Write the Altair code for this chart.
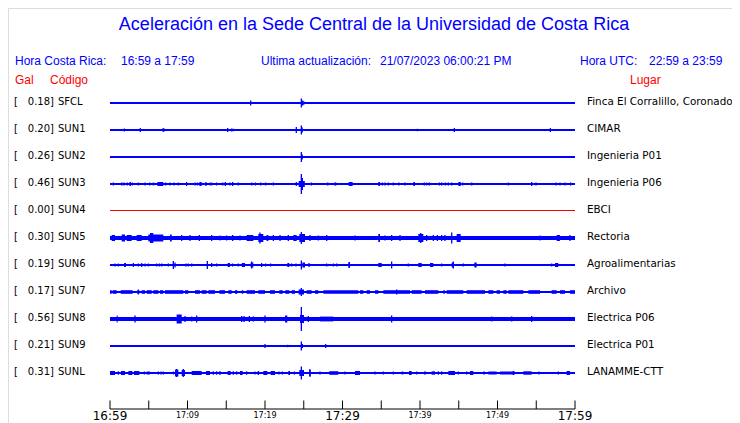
import altair as alt
import pandas as pd

# ---------------- data ----------------
CODES = ["SFCL", "SUN1", "SUN2", "SUN3", "SUN4", "SUN5", "SUN6", "SUN7", "SUN8", "SUN9", "SUNL"]
GAL = ["0.18", "0.20", "0.26", "0.46", "0.00", "0.30", "0.19", "0.17", "0.56", "0.21", "0.31"]
PLACES = ["Finca El Corralillo, Coronado", "CIMAR", "Ingenieria P01", "Ingenieria P06", "EBCI",
          "Rectoria", "Agroalimentarias", "Archivo", "Electrica P06", "Electrica P01", "LANAMME-CTT"]
STATUS = ["on", "on", "on", "on", "off", "on", "on", "on", "on", "on", "on"]
# background noise half-amplitude per trace
NOISE = [1, 1, 1, 1, 0.5, 2, 1, 1, 2, 1, 1]

# spikes: (minute after 16:59, half amplitude)
SPIKES = {
    "SFCL": [(18.15, 2.5), (24.69, 4.5), (24.85, 2.5), (25.0, 1.8)],
    "SUN1": [(1.85, 1.5), (3.91, 2), (6.85, 1.8), (6.95, 1.8), (15.18, 2), (15.7, 1.5), (15.9, 1.2),
             (24.04, 3), (24.69, 4.5), (24.8, 2.5), (39.66, 1.2), (44.43, 2), (56.82, 2)],
    "SUN2": [(24.69, 5), (24.8, 2.5)],
    "SUN3": [(0.43, 1.5), (1.5, 1.5), (1.81, 1.5), (2.24, 1.5), (2.88, 1.5), (3.66, 1.5), (4.52, 1.5),
             (5.12, 1.5), (5.59, 1.5), (7.18, 1.5), (7.74, 1.5), (8.26, 1.5), (8.82, 1.5), (9.89, 2),
             (10.97, 1.5), (11.27, 1.5), (12.39, 2), (12.9, 1.5), (13.12, 1.5), (13.76, 1.5), (14.54, 1.5),
             (14.88, 2), (15.48, 1.5), (15.83, 2), (16.56, 1.5), (18.28, 1.5), (18.75, 1.5), (19.44, 1.5),
             (20.09, 1.5), (21.08, 1.5), (24.04, 2), (24.43, 3), (24.69, 10), (24.82, 6), (25.03, 3),
             (25.98, 1.5), (28.09, 1.5), (29.03, 1.5), (29.12, 1.5), (30.88, 2), (35.14, 1.5), (35.48, 1.5),
             (35.91, 1.5), (36.56, 1.5), (37.29, 1.5), (38.06, 1.5), (40.56, 1.5), (40.86, 1.5), (41.2, 1.5),
             (42.49, 1.5), (42.79, 1.5), (43.27, 1.5), (43.66, 1.5), (44.09, 1.5), (45.51, 1.5), (46.67, 1.5),
             (51.4, 1.5), (54.41, 2), (54.97, 1.5), (57.55, 1.5), (58.06, 1.5), (58.71, 1.5), (59.44, 1.5)],
    "SUN4": [],
    "SUN5": [(9.25, 3), (10.32, 3), (11.53, 3), (13.12, 3), (14.19, 2.5), (15.05, 2.5), (15.83, 3),
             (16.77, 2.5), (19.35, 5.5), (21.08, 3), (21.94, 3), (23.01, 3), (24.69, 6), (25.81, 3),
             (26.88, 2.5), (27.96, 3), (31.61, 2.5), (35.48, 2.5), (36.34, 3), (37.42, 3), (40.09, 5),
             (40.86, 3), (41.72, 3), (42.24, 3), (42.79, 3), (43.22, 3), (44.09, 5.5), (55.48, 2.5), (59.35, 3)],
    "SUN6": [(0.65, 1.5), (1.08, 1.5), (3.01, 2), (3.66, 1.5), (4.09, 2), (4.52, 1.5), (4.95, 1.5),
             (6.02, 1.5), (6.37, 1.5), (6.67, 1.5), (7.53, 1.5), (8.17, 4), (8.39, 2.5), (9.81, 1.5),
             (10.11, 1.5), (10.54, 1.5), (12.56, 4), (13.12, 2), (13.76, 1.5), (15.83, 1.5), (16.56, 1.5),
             (18.28, 3.5), (19.57, 2), (20.09, 1.5), (20.73, 1.5), (23.44, 1.5), (24.0, 1.5), (24.69, 4.5),
             (25.68, 2), (27.96, 1.5), (28.82, 1.5), (29.25, 1.5), (30.88, 3), (36.34, 3.5), (38.49, 1.5),
             (42.79, 1.5), (44.3, 3.5), (45.59, 1.5), (50.97, 1.5), (56.99, 1.5)],
    "SUN7": [(3.66, 2.5), (24.69, 4), (37.0, 2.5)],
    "SUN8": [(3.23, 3.5), (9.68, 3), (10.54, 2.5), (11.18, 3.5), (16.99, 3), (17.29, 3), (17.98, 3),
             (18.49, 2.5), (20.0, 3.5), (24.69, 12), (25.59, 3), (36.34, 3.5), (49.25, 2.5), (51.83, 2.5),
             (54.41, 3)],
    "SUN9": [(20.0, 2), (22.92, 1.2), (24.69, 4.5), (24.82, 2), (27.83, 2)],
    "SUNL": [(1.08, 1.7), (4.43, 1.5), (6.24, 1.5), (6.58, 1.5), (6.88, 1.5), (8.17, 1.5), (8.6, 4),
             (9.46, 4), (13.33, 1.7), (13.76, 1.7), (15.91, 1.7), (16.34, 1.7), (17.63, 1.7), (18.71, 1.5),
             (19.14, 2), (21.81, 1.5), (22.24, 1.5), (23.79, 1.5), (24.69, 6.5), (25.8, 3.5), (27.1, 1.5),
             (30.32, 1.5), (34.19, 1.5), (35.27, 1.5), (36.56, 1.5), (39.57, 1.5), (40.64, 1.7), (42.37, 1.7),
             (42.79, 1.7), (44.95, 1.5), (46.02, 1.5), (52.04, 2), (55.35, 1.5), (57.85, 1.5)],
}

# bursts: (start minute, end minute, half amplitude)
BURSTS = {
    "SFCL": [],
    "SUN1": [],
    "SUN2": [],
    "SUN3": [(2.5, 2.7, 2), (6.11, 6.88, 2), (11.53, 11.83, 2), (24.4, 25.1, 3), (30.88, 31.31, 2),
             (34.62, 34.84, 2), (39.14, 39.35, 2), (44.95, 45.25, 2)],
    "SUN4": [],
    "SUN5": [(0.22, 0.65, 3), (1.51, 1.94, 3.5), (2.15, 2.8, 3), (3.44, 4.09, 3), (4.95, 6.88, 3.5),
             (5.16, 5.59, 5), (7.74, 7.96, 3.5), (17.63, 18.49, 3), (19.14, 19.78, 4), (20.2, 20.43, 3),
             (23.66, 24.09, 3), (24.43, 25.16, 4), (34.62, 34.84, 4), (39.78, 40.43, 4), (44.73, 45.25, 4),
             (57.63, 58.06, 3)],
    "SUN6": [(1.81, 2.06, 2), (15.18, 15.48, 2), (17.0, 17.42, 2), (18.15, 18.49, 2.5), (22.88, 23.14, 2),
             (24.82, 25.16, 2.5), (30.75, 30.97, 2.5), (34.62, 35.05, 2), (39.78, 40.21, 2), (41.29, 41.72, 2),
             (44.09, 44.39, 2.5), (47.01, 47.31, 2.5), (57.42, 57.85, 2)],
    "SUN7": [(0.0, 0.22, 1.8), (0.34, 0.86, 1.8), (1.38, 2.92, 1.8), (3.53, 3.79, 1.8), (4.09, 4.52, 1.8),
             (4.73, 5.38, 1.8), (5.59, 6.24, 1.8), (6.45, 6.88, 1.8), (7.1, 9.46, 1.8), (9.68, 10.11, 1.8),
             (10.97, 11.61, 1.8), (11.83, 12.47, 1.8), (12.69, 13.55, 1.8), (14.11, 14.84, 1.8),
             (15.27, 15.7, 1.8), (16.13, 16.43, 1.8), (16.99, 17.2, 1.8), (17.63, 18.71, 1.8),
             (19.14, 20.0, 1.8), (20.64, 21.29, 1.8), (21.85, 22.28, 1.8), (22.62, 23.14, 1.8),
             (23.44, 23.87, 1.8), (24.34, 25.03, 2.5), (25.38, 26.02, 1.8), (26.45, 26.88, 1.8),
             (27.53, 32.04, 1.8), (32.26, 32.69, 1.8), (33.12, 33.55, 1.8), (34.19, 34.62, 1.8),
             (35.27, 38.71, 1.8), (38.92, 40.21, 1.8), (40.64, 42.37, 1.8), (43.01, 43.22, 1.8),
             (43.44, 45.59, 1.8), (46.02, 48.39, 1.8), (48.82, 49.46, 1.8), (49.89, 50.32, 1.8),
             (50.75, 51.18, 1.8), (51.4, 53.33, 1.8), (53.98, 55.48, 1.8), (56.99, 57.63, 1.8),
             (58.06, 58.71, 1.8), (59.35, 60.0, 1.8)],
    "SUN8": [(0.86, 0.99, 3.5), (8.6, 9.25, 4.5), (22.58, 22.88, 3.5), (24.52, 25.03, 4), (27.1, 28.82, 2.4)],
    "SUN9": [],
    "SUNL": [(0.0, 0.65, 2), (1.42, 1.94, 2), (2.37, 2.88, 2), (3.1, 3.79, 2), (4.73, 5.16, 1.5),
             (8.39, 8.82, 3.5), (9.25, 9.68, 3), (10.54, 11.83, 2), (12.39, 12.9, 2), (14.06, 14.28, 1.7),
             (15.18, 15.57, 2), (16.77, 17.12, 2), (19.78, 20.3, 2), (20.73, 21.29, 2), (23.01, 23.23, 2),
             (24.43, 25.03, 3), (25.68, 25.89, 3.5), (28.3, 29.46, 1.8), (31.61, 32.26, 2), (37.63, 37.85, 1.5),
             (38.58, 38.92, 2), (41.5, 41.94, 1.7), (43.66, 44.52, 2), (46.45, 46.88, 2), (48.17, 48.39, 1.5),
             (48.82, 49.89, 1.5), (50.32, 52.26, 1.5), (53.33, 54.41, 1.7), (58.92, 59.35, 2)],
}

TICK_MIN = [0, 5, 10, 15, 20, 25, 30, 35, 40, 45, 50, 55, 60]
LABEL_MIN = [0, 10, 20, 30, 40, 50, 60]
LABEL_TXT = ["16:59", "17:09", "17:19", "17:29", "17:39", "17:49", "17:59"]

TITLE = "Aceleración en la Sede Central de la Universidad de Costa Rica"

# ---------------- tables ----------------
ROW = 27
stations = pd.DataFrame({"code": CODES, "gal": [g + "]" for g in GAL], "place": PLACES,
                         "status": STATUS, "noise": NOISE, "idx": list(range(len(CODES)))})
stations["yc"] = stations["idx"] * ROW
is_off = stations["status"] == "off"
stations["lo"] = stations["yc"] - stations["noise"].where(~is_off, 1.0)
stations["hi"] = stations["yc"] + stations["noise"].where(~is_off, 0.0)
stations["t0"] = 0
stations["t1"] = 60

sp_rows, bu_rows = [], []
for i, c in enumerate(CODES):
    for t, a in SPIKES[c]:
        sp_rows.append({"t": t, "lo": i * ROW - a, "hi": i * ROW + a})
    for t0, t1, a in BURSTS[c]:
        bu_rows.append({"t0": t0, "t1": t1, "lo": i * ROW - a, "hi": i * ROW + a})
spikes = pd.DataFrame(sp_rows)
bursts = pd.DataFrame(bu_rows)
ticks = pd.DataFrame({"t": TICK_MIN})
labels = pd.DataFrame({"t": LABEL_MIN, "txt": LABEL_TXT})
labels["major"] = labels["t"] % 30 == 0

BLUE = "#0000ff"
RED = "#ff0000"
xs = alt.Scale(domain=[0, 60], range=[102, 567], nice=False, zero=False)
ys = alt.Scale(domain=[0, 270], range=[95, 365], nice=False, zero=False)
color = alt.Color("status:N", scale=alt.Scale(domain=["on", "off"], range=[BLUE, RED]), legend=None)

base_tr = alt.Chart(stations).mark_rect().encode(
    x=alt.X("t0:Q", scale=xs, axis=None), x2="t1:Q",
    y=alt.Y("lo:Q", scale=ys, axis=None), y2="hi:Q", color=color)

burst_l = alt.Chart(bursts).mark_rect(color=BLUE).encode(
    x=alt.X("t0:Q", scale=xs, axis=None), x2="t1:Q",
    y=alt.Y("lo:Q", scale=ys, axis=None), y2="hi:Q")

spike_l = alt.Chart(spikes).mark_rule(color=BLUE, strokeWidth=1.3).encode(
    x=alt.X("t:Q", scale=xs, axis=None),
    y=alt.Y("lo:Q", scale=ys, axis=None), y2="hi:Q")

FONT_L = "DejaVu Sans"
bracket = alt.Chart(stations).mark_text(text="[", align="left", font=FONT_L, fontSize=10, dy=2,
                                        baseline="alphabetic", color="black").encode(
    x=alt.value(6), y=alt.Y("yc:Q", scale=ys, axis=None))
gal_t = alt.Chart(stations).mark_text(align="right", font=FONT_L, fontSize=10, dy=2,
                                      baseline="alphabetic", color="black").encode(
    x=alt.value(46), y=alt.Y("yc:Q", scale=ys, axis=None), text="gal:N")
code_t = alt.Chart(stations).mark_text(align="left", font=FONT_L, fontSize=10, dy=2,
                                       baseline="alphabetic", color="black").encode(
    x=alt.value(50), y=alt.Y("yc:Q", scale=ys, axis=None), text="code:N")
place_t = alt.Chart(stations).mark_text(align="left", font=FONT_L, fontSize=10.4, dy=2,
                                        baseline="alphabetic", color="black").encode(
    x=alt.value(579), y=alt.Y("yc:Q", scale=ys, axis=None), text="place:N")

axis_line = alt.Chart(pd.DataFrame({"t0": [0], "t1": [60]})).mark_rule(color="black", strokeWidth=1).encode(
    x=alt.X("t0:Q", scale=xs, axis=None), x2="t1:Q", y=alt.value(401))
tick_l = alt.Chart(ticks).mark_rule(color="black", strokeWidth=1).encode(
    x=alt.X("t:Q", scale=xs, axis=None), y=alt.value(392.5), y2=alt.value(401))
lab_major = alt.Chart(labels).transform_filter("datum.major").mark_text(
    font=FONT_L, fontSize=12, align="center", baseline="alphabetic", color="black").encode(
    x=alt.X("t:Q", scale=xs, axis=None), y=alt.value(412), text="txt:N")
lab_minor = alt.Chart(labels).transform_filter("!datum.major").mark_text(
    font=FONT_L, fontSize=8, align="center", baseline="alphabetic", color="black").encode(
    x=alt.X("t:Q", scale=xs, axis=None), y=alt.value(409.5), text="txt:N")

dummy = pd.DataFrame({"d": [0]})
FONT_H = "Liberation Sans"


def htext(txt, x, y, color, size=12, align="left"):
    return alt.Chart(dummy).mark_text(text=txt, font=FONT_H, fontSize=size, align=align,
                                      baseline="alphabetic", color=color).encode(
        x=alt.value(x), y=alt.value(y))


headers = [
    htext(TITLE, 366, 22, BLUE, size=18, align="center"),
    htext("Hora Costa Rica:", 7, 57, BLUE),
    htext("16:59 a 17:59", 113, 57, BLUE),
    htext("Ultima actualización:", 253, 57, BLUE),
    htext("21/07/2023 06:00:21 PM", 372, 57, BLUE),
    htext("Hora UTC:", 572, 57, BLUE),
    htext("22:59 a 23:59", 641, 57, BLUE),
    htext("Gal", 7, 76, RED),
    htext("Código", 42, 76, RED),
    htext("Lugar", 622, 76, RED),
]

chart = alt.layer(
    base_tr, burst_l, spike_l, bracket, gal_t, code_t, place_t,
    axis_line, tick_l, lab_major, lab_minor, *headers
).properties(
    width=724, height=415, padding=0, autosize=alt.AutoSizeParams(type="none")
).configure_view(stroke=None).configure(background="white")

chart.save("out.html", embed_options={"renderer": "svg", "actions": False})
